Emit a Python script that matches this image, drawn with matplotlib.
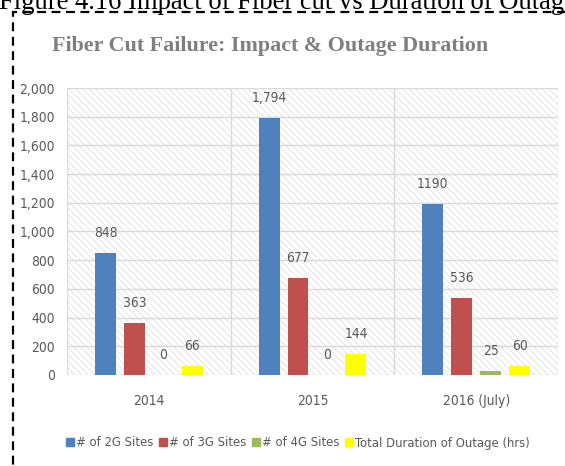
import matplotlib
matplotlib.use("Agg")
import matplotlib.pyplot as plt
from matplotlib import font_manager
from matplotlib.font_manager import FontProperties
from matplotlib.lines import Line2D
from matplotlib.patches import Rectangle
import numpy as np

# ---- data ----
categories = ["2014", "2015", "2016 (July)"]
series_names = ["# of 2G Sites", "# of 3G Sites", "# of 4G Sites",
                "Total Duration of Outage (hrs)"]
sites_2g = [848, 1794, 1190]
sites_3g = [363, 677, 536]
sites_4g = [0, 0, 25]
outage_hrs = [66, 144, 60]
labels_2g = ["848", "1,794", "1190"]
labels_3g = ["363", "677", "536"]
labels_4g = ["0", "0", "25"]
labels_hrs = ["66", "144", "60"]
y_ticks = [0, 200, 400, 600, 800, 1000, 1200, 1400, 1600, 1800, 2000]
y_tick_labels = ["0", "200", "400", "600", "800", "1,000", "1,200", "1,400",
                 "1,600", "1,800", "2,000"]
title = "Fiber Cut Failure: Impact & Outage Duration"
caption = "Figure 4.16 Impact of Fiber cut vs Duration of Outage"

colors = ["#4F81BD", "#C0504D", "#9BBB59", "#FFFF00"]
text_gray = "#595959"

plt.rcParams["hatch.linewidth"] = 0.5
plt.rcParams["hatch.color"] = "#DADADA"

ttf = font_manager.fontManager.ttflist
names = {f.name for f in ttf}
if "Liberation Sans Narrow" in names:
    small_family, small_stretch, boost = "Liberation Sans Narrow", "normal", 1.0
elif any(f.name == "DejaVu Sans" and f.stretch in ("condensed", "semi-condensed") for f in ttf):
    small_family, small_stretch, boost = "DejaVu Sans", "condensed", 1.1
else:
    small_family, small_stretch, boost = "DejaVu Sans", "normal", 1.18
serif = "Liberation Serif" if "Liberation Serif" in names else "DejaVu Serif"

W, H = 565, 466
fig = plt.figure(figsize=(W / 100, H / 100), dpi=100)
renderer = fig.canvas.get_renderer()


def width_px(s, fp):
    t = fig.text(0, 0, s, fontproperties=fp)
    w = t.get_window_extent(renderer).width
    t.remove()
    return w


def fitted(fp, s, target):
    fp = fp.copy()
    base = 20.0
    fp.set_size(base)
    fp.set_size(base * target / width_px(s, fp))
    return fp


# font properties fitted to the reference text widths
fp_small = fitted(FontProperties(family=small_family, stretch=small_stretch),
                  "2,000", 32)
fp_small.set_size(fp_small.get_size() * boost)
fp_leg = fp_small.copy()
fp_leg.set_size(fp_small.get_size() * 0.95)
fp_title = fitted(FontProperties(family=serif, weight="bold"), title, 396)
fp_title.set_size(fp_title.get_size() * 1.1)
fp_cap = fitted(FontProperties(family=serif), caption[:-1], 566)

# caption (cut at top, as in the reference)
fig.text(-1 / W, 1 - 9 / H, caption, fontproperties=fp_cap,
         color="black", ha="left", va="baseline")

# dashed frame
fig.patches.append(Rectangle((13 / W, -0.2), 1.2, 1 - 12 / H + 0.2,
                             transform=fig.transFigure, fill=False,
                             edgecolor="black", linewidth=1.6,
                             linestyle=(0, (4, 2.5)), zorder=0))

# title
fig.text(270 / W, 1 - 51 / H, title, fontproperties=fp_title,
         color="#7F7F7F", ha="center", va="baseline")

ax = fig.add_axes([67 / W, 1 - 375 / H, (558 - 67) / W, (375 - 88) / H])
ax.set_xlim(-0.5, 2.5)
ax.set_ylim(0, 2000)

# hatched plot area background
ax.add_patch(Rectangle((0, 0), 1, 1, transform=ax.transAxes, facecolor="white",
                       edgecolor="#DADADA", hatch="\\\\\\\\\\", linewidth=0,
                       zorder=0))

for y in y_ticks:
    ax.axhline(y, color="#D9D9D9", linewidth=1.0, zorder=1)
for xv in [-0.5, 0.5, 1.5, 2.5]:
    ax.axvline(xv, color="#D9D9D9", linewidth=1.0, zorder=1)

x = np.arange(len(categories))
width = 0.128
step = 0.177
all_vals = [sites_2g, sites_3g, sites_4g, outage_hrs]
all_labels = [labels_2g, labels_3g, labels_4g, labels_hrs]
for i, (vals, labs, c, nm) in enumerate(zip(all_vals, all_labels, colors, series_names)):
    pos = x + (i - 1.5) * step
    ax.bar(pos, vals, width=width, color=c, zorder=3, label=nm)
    for p, v, lab in zip(pos, vals, labs):
        ax.annotate(lab, (p, v), xytext=(0, 14.4), textcoords="offset points",
                    ha="center", va="center", fontproperties=fp_small,
                    color=text_gray, zorder=4)

for s in ax.spines.values():
    s.set_visible(False)

ax.set_yticks(y_ticks)
ax.set_yticklabels(y_tick_labels)
ax.set_xticks(x)
ax.set_xticklabels(categories)
ax.tick_params(axis="y", length=0, pad=8.6, labelcolor=text_gray)
ax.tick_params(axis="x", length=0, pad=14, labelcolor=text_gray)
for t in ax.get_xticklabels() + ax.get_yticklabels():
    t.set_fontproperties(fp_small)

handles = [Line2D([], [], marker="s", linestyle="", markersize=5.5,
                  markerfacecolor=c, markeredgecolor=c) for c in colors]
leg = fig.legend(handles, series_names, loc="center",
                 bbox_to_anchor=(298 / W, 1 - 443 / H), ncol=4, frameon=False,
                 handlelength=0.5, handletextpad=0.2, columnspacing=0.5,
                 prop=fp_leg)
for t in leg.get_texts():
    t.set_color(text_gray)

fig.savefig("out.png", dpi=100)
